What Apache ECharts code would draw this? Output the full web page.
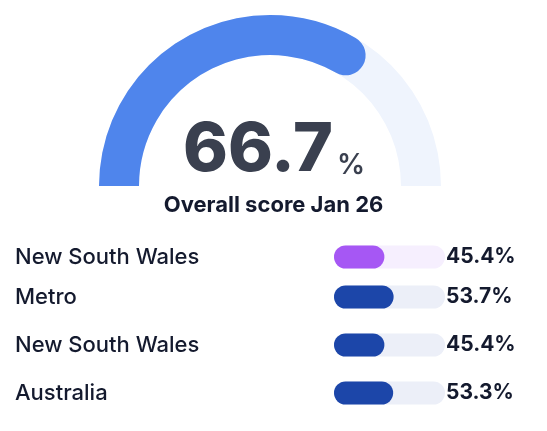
<!DOCTYPE html>
<html><head><meta charset="utf-8">
<script src="https://cdn.jsdelivr.net/npm/echarts@6/dist/echarts.min.js"></script>
<style>html,body{margin:0;padding:0;background:#fff}#c{width:547px;height:431px}</style>
</head><body><div id="c"></div>
<script>
const overallScore = 66.7;
const overallLabel = 'Overall score Jan 26';
const categories = ['New South Wales', 'Metro', 'New South Wales', 'Australia'];
const values = [45.4, 53.7, 45.4, 53.3];
const fillColors = ['#A657F4', '#1C46A9', '#1C46A9', '#1C46A9'];
const trackColors = ['#F6EFFE', '#ECEFF8', '#ECEFF8', '#ECEFF8'];
const rowCenters = [257, 297, 345, 393];

const FONT = 'Inter, "Noto Sans", sans-serif';
const chart = echarts.init(document.getElementById('c'));

const grids = [], xAxes = [], yAxes = [], series = [];
categories.forEach((cat, i) => {
  grids.push({left: 334, right: 102, top: rowCenters[i] - 12, height: 24});
  xAxes.push({type: 'value', gridIndex: i, min: 0, max: 100, show: false});
  yAxes.push({type: 'category', gridIndex: i, data: [cat],
    axisLine: {show: false}, axisTick: {show: false},
    axisLabel: {align: 'left', margin: 319, fontSize: 22, fontWeight: 500, color: '#141a2e', fontFamily: FONT}});
  series.push({type: 'bar', xAxisIndex: i, yAxisIndex: i, data: [100], barWidth: 23, barGap: '-100%',
    itemStyle: {color: trackColors[i], borderRadius: 12}, silent: true, z: 1,
    label: {show: true, position: 'right', distance: 1, formatter: () => values[i].toFixed(1) + '%',
      fontSize: 21, fontWeight: 'bold', color: '#141a2e', fontFamily: FONT}});
  series.push({type: 'bar', xAxisIndex: i, yAxisIndex: i, data: [values[i]], barWidth: 23, barGap: '-100%',
    itemStyle: {color: fillColors[i], borderRadius: 12}, z: 2});
});

series.push({
  type: 'gauge', center: [270, 186], radius: 171, startAngle: 180, endAngle: 0, min: 0, max: 100,
  progress: {show: true, width: 40, roundCap: true, itemStyle: {color: '#4F85EC'}},
  axisLine: {lineStyle: {width: 40, color: [[1, '#EFF4FD']]}},
  pointer: {show: false}, axisTick: {show: false}, splitLine: {show: false}, axisLabel: {show: false},
  title: {show: false},
  detail: {offsetCenter: [4, -37], formatter: v => '{v|' + v.toFixed(1) + '}{p|%}',
    rich: {v: {fontSize: 68, fontWeight: 800, color: '#3a404f', fontFamily: FONT, lineHeight: 72, verticalAlign: 'bottom'},
           p: {fontSize: 28, fontWeight: 600, color: '#3a404f', fontFamily: FONT, lineHeight: 30, verticalAlign: 'bottom', padding: [0, 0, 5, 4]}}},
  data: [{value: overallScore}], z: 2
});

chart.setOption({
  animation: false,
  grid: grids, xAxis: xAxes, yAxis: yAxes, series: series,
  title: {text: overallLabel, left: 'center', top: 189,
    textStyle: {fontSize: 22, fontWeight: 'bold', color: '#141a2e', fontFamily: FONT}},
  graphic: [{type: 'rect', shape: {x: 90, y: 186, width: 60, height: 24}, style: {fill: '#fff'}, z: 100}]
});
</script></body></html>
